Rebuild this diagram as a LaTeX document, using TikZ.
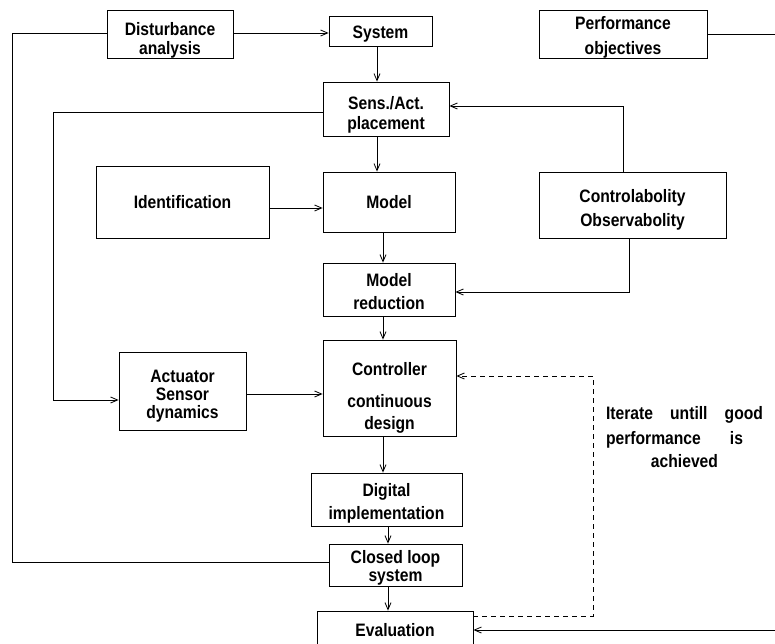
\documentclass[tikz,border=0pt]{standalone}
\usepackage{fontspec}
\setmainfont{Liberation Sans}[FakeStretch=0.87]
\usetikzlibrary{arrows.meta}
\newcommand\dn[1]{\rule{0pt}{\dimexpr 13.1pt+#1pt*2\relax}}
\begin{document}
\begin{tikzpicture}[x=1pt,y=-1pt,
  box/.style={draw, line width=0.8pt, align=center, inner sep=0pt,
    font=\fontsize{18}{19}\selectfont\bfseries},
  arr/.style={line width=0.8pt, -{Straight Barb[length=7pt,width=6pt]}},
  ln/.style={line width=0.8pt},
  dashln/.style={line width=0.8pt, dash pattern=on 5pt off 4pt, -{Straight Barb[length=7pt,width=6pt]}},
  txt/.style={font=\fontsize{18}{19}\selectfont\bfseries, align=center, inner sep=0pt}]
\useasboundingbox (0,0) rectangle (775,644);
\clip (0,0) rectangle (775,644);
% boxes
\node[box, minimum width=126, minimum height=48] (dist) at (170,34) {\dn{6}Disturbance\\analysis};
\node[box, minimum width=103, minimum height=30] (sys) at (380.5,31) {\dn{3}System};
\node[box, minimum width=168, minimum height=48] (perf) at (623,34) {\dn{3}Performance\\[6pt]objectives};
\node[box, minimum width=126, minimum height=54] (sens) at (386,109) {\dn{6}Sens./Act.\\[1pt]placement};
\node[box, minimum width=173, minimum height=72] (ident) at (182.5,202) {Identification};
\node[box, minimum width=132, minimum height=60] (model) at (389,202) {Model};
\node[box, minimum width=187, minimum height=66] (contr) at (632.5,205) {\dn{5}Controlabolity\\[5pt]Observabolity};
\node[box, minimum width=132, minimum height=53] (mred) at (389,289.5) {\dn{2}Model\\[4pt]reduction};
\node[box, minimum width=127, minimum height=78] (act) at (182.5,391) {\dn{5}Actuator\\[-1pt]Sensor\\[-1pt]dynamics};
\node[box, minimum width=133, minimum height=96] (ctrl) at (389.5,388) {\rule{0pt}{33pt}Controller\\[13pt]continuous\\[3pt]design};
\node[box, minimum width=151, minimum height=53] (dig) at (386.5,499.5) {\dn{4}Digital\\[4pt]implementation};
\node[box, minimum width=133, minimum height=42] (cl) at (395.5,565) {\dn{3}Closed loop\\[-1pt]system};
\node[box, minimum width=156, minimum height=38] (eval) at (395,630) {Evaluation};
\node[txt] (iter) at (684.5,437) {\makebox[157pt]{Iterate\hfill untill\hfill good}\\[6pt]\makebox[157pt]{performance\hfill is\hspace*{20pt}}\\[4pt]achieved};
% helper coordinates
\coordinate (L1) at (12,0);
\coordinate (L2) at (53,0);
\coordinate (C1) at (377,0);
\coordinate (C2) at (383,0);
\coordinate (C3) at (388,0);
\coordinate (R1) at (623,0);
\coordinate (R2) at (629,0);
\coordinate (D) at (593,0);
\coordinate (E) at (776,0);
\coordinate (Y1) at (0,33);
\coordinate (Y2) at (0,112);
\coordinate (Y3) at (0,106);
\coordinate (Y4) at (0,208);
\coordinate (Y5) at (0,292);
\coordinate (Y6) at (0,400);
\coordinate (Y7) at (0,394);
\coordinate (Y8) at (0,376);
\coordinate (Y9) at (0,562);
\coordinate (Y10) at (0,616);
\coordinate (Y11) at (0,630);
% connectors
\draw[ln] (dist.west |- Y1) -- (L1 |- Y1) -- (L1 |- Y9) -- (cl.west |- Y9);
\draw[arr] (dist.east |- Y1) -- (sys.west |- Y1);
\draw[arr] (sys.south -| C1) -- (sens.north -| C1);
\draw[arr] (sens.west |- Y2) -- (L2 |- Y2) -- (L2 |- Y6) -- (act.west |- Y6);
\draw[arr] (sens.south -| C1) -- (model.north -| C1);
\draw[arr] (ident.east |- Y4) -- (model.west |- Y4);
\draw[arr] (model.south -| C2) -- (mred.north -| C2);
\draw[arr] (contr.south -| R2) -- (R2 |- Y5) -- (mred.east |- Y5);
\draw[arr] (contr.north -| R1) -- (R1 |- Y3) -- (sens.east |- Y3);
\draw[arr] (mred.south -| C2) -- (ctrl.north -| C2);
\draw[arr] (act.east |- Y7) -- (ctrl.west |- Y7);
\draw[arr] (ctrl.south -| C2) -- (dig.north -| C2);
\draw[arr] (dig.south -| C3) -- (cl.north -| C3);
\draw[arr] (cl.south -| C3) -- (eval.north -| C3);
\draw[ln] (perf.east) -- (perf.east -| E);
\draw[arr] (E |- Y11) -- (eval.east |- Y11);
\draw[dashln] (eval.east |- Y10) -- (D |- Y10) -- (D |- Y8) -- (ctrl.east |- Y8);
\end{tikzpicture}
\end{document}
